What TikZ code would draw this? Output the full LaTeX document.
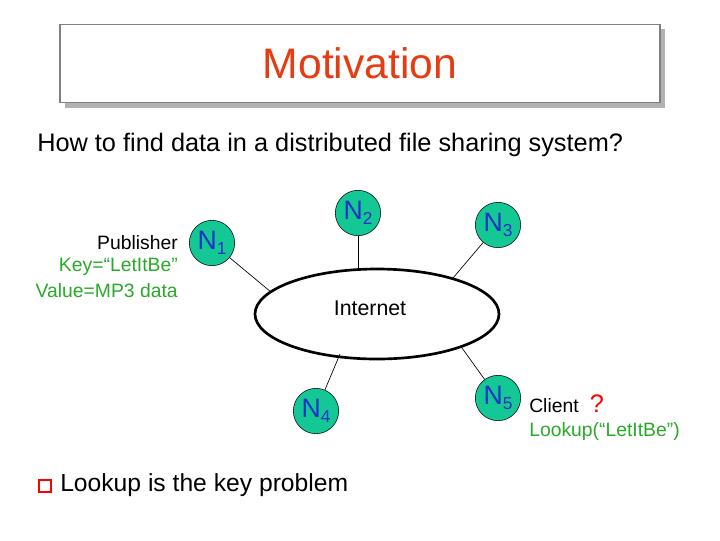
\documentclass[tikz,border=0pt]{standalone}
\usepackage{fontspec}
\setmainfont{Liberation Sans}
\newcommand{\nsub}[1]{\raisebox{-0.35ex}{\fontsize{13}{14}\selectfont #1}}
\begin{document}
\begin{tikzpicture}[x=0.75pt,y=-0.75pt,
  nd/.style={circle,draw=black,fill={rgb,255:red,20;green,200;blue,150},minimum size=34pt,inner sep=0pt,text={rgb,255:red,30;green,50;blue,200},font=\fontsize{20}{21}\selectfont},
  lbl/.style={font=\fontsize{14.5}{16}\selectfont,inner sep=0pt},
  grn/.style={text={rgb,255:red,40;green,170;blue,40}},
  link/.style={draw=black,line width=0.5pt}]
\useasboundingbox (0,0) rectangle (720,540);
\fill[gray!60] (65,29) rectangle (665,108);
\node[draw=gray,fill=white,line width=0.8pt,minimum width=450pt,minimum height=59pt,inner sep=0pt] (tb) at (360,63.5) {};
\node[text={rgb,255:red,230;green,60;blue,20},font=\fontsize{32}{34}\selectfont] (title) at (360,63) {Motivation};
\node[anchor=west,font=\fontsize{19}{21}\selectfont,inner sep=0pt] (q) at (37,145) {How to find data in a distributed file sharing system?};
\draw[line width=2pt] (377,314) ellipse (122 and 45);
\coordinate (e1) at (271,292); \coordinate (e2) at (358,269); \coordinate (e3) at (453,278);
\coordinate (e4) at (340,354); \coordinate (e5) at (462,348);
\node[nd] (n1) at (212,243) {N\nsub{1}};
\node[nd] (n2) at (358,213) {N\nsub{2}};
\node[nd] (n3) at (498,225) {N\nsub{3}};
\node[nd] (n4) at (316,411) {N\nsub{4}};
\node[nd] (n5) at (498,398) {N\nsub{5}};
\draw[link] (n1) -- (e1); \draw[link] (n2) -- (e2); \draw[link] (n3) -- (e3);
\draw[link] (n4) -- (e4); \draw[link] (n5) -- (e5);
\node[lbl,font=\fontsize{16}{18}\selectfont] (inet) at (370,308) {Internet};
\node[lbl,anchor=east] (pub) at (178,243) {Publisher};
\node[lbl,grn,anchor=east] (key) at (178,267) {Key=“LetItBe”};
\node[lbl,grn,anchor=east] (val) at (178,291) {Value=MP3 data};
\node[lbl,anchor=west] (cl) at (529,406) {Client};
\node[lbl,text=red,font=\fontsize{19}{20}\selectfont] (qm) at (597,404) {?};
\node[lbl,grn,anchor=west] (lk) at (529,431) {Lookup(“LetItBe”)};
\node[draw=red,line width=1.2pt,minimum size=9pt,inner sep=0pt] (bul) at (45,486) {};
\node[anchor=west,font=\fontsize{18.5}{20}\selectfont,inner sep=0pt] (lp) at (60,485) {Lookup is the key problem};
\end{tikzpicture}
\end{document}
